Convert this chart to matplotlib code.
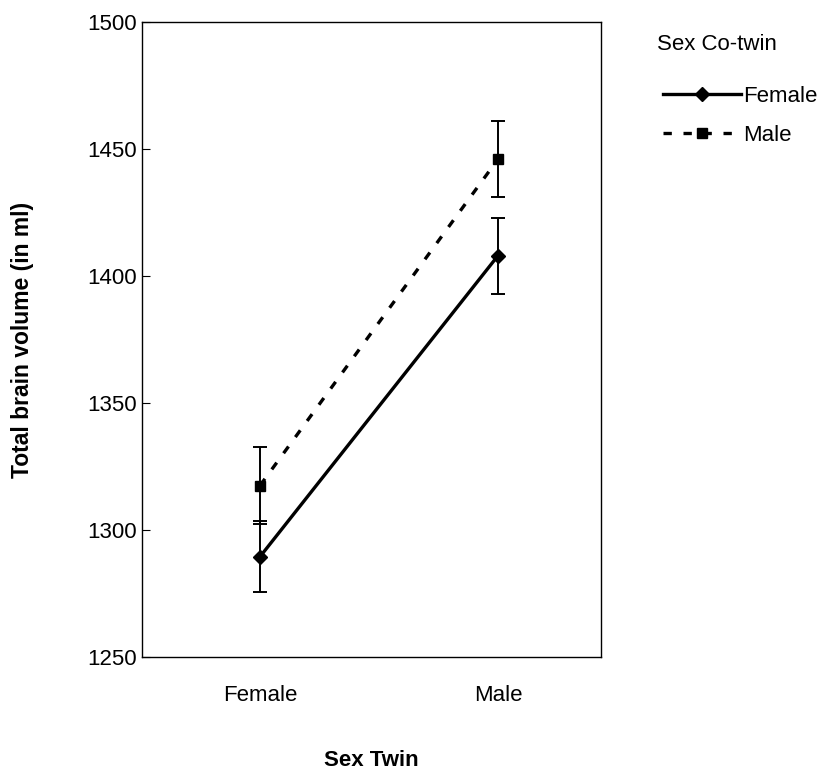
import numpy as np
import matplotlib.pyplot as plt
from matplotlib.lines import Line2D

plt.rcParams["font.family"] = ["Liberation Sans", "DejaVu Sans"]

# Data
sex_twin = ["Female", "Male"]
cotwin_female = [1289.5, 1408]
cotwin_female_err = [14, 15]
cotwin_male = [1317.5, 1446]
cotwin_male_err = [15, 15]
y_ticks = [1250, 1300, 1350, 1400, 1450, 1500]

dash = (0, (2.5, 3.5))

fig = plt.figure(figsize=(8.4, 7.7), dpi=100)
ax = fig.add_axes([142 / 840, 113 / 770, 459 / 840, 635 / 770])

x = np.arange(len(sex_twin))

ax.errorbar(x, cotwin_female, yerr=cotwin_female_err, color="black",
            linewidth=2.4, marker="D", markersize=7, capsize=5,
            elinewidth=1.4, capthick=1.4)
ax.errorbar(x, cotwin_male, yerr=cotwin_male_err, color="black",
            linewidth=2.4, linestyle=dash, marker="s", markersize=7,
            capsize=5, elinewidth=1.4, capthick=1.4)

ax.set_xlim(-0.496, 1.433)
ax.set_ylim(1250, 1500)
ax.set_yticks(y_ticks)
ax.set_xticks(x)
ax.set_xticklabels(sex_twin)
ax.tick_params(axis="y", direction="in", length=6, labelsize=16, pad=4)
ax.tick_params(axis="x", length=0, labelsize=16, pad=20)
for s in ax.spines.values():
    s.set_linewidth(1.0)

ax.set_ylabel("Total brain volume (in ml)", fontsize=16.5, fontweight="bold", labelpad=38)
ax.set_xlabel("Sex Twin", fontsize=16, fontweight="bold", labelpad=32)

# legend title drawn separately so the gap matches the reference
fig.text(657 / 840, 1 - 45 / 770, "Sex Co-twin", fontsize=16, ha="left", va="center")

# legend proxies without error bars
handles = [
    Line2D([], [], color="black", linewidth=2.4, marker="D", markersize=7),
    Line2D([], [], color="black", linewidth=2.4, linestyle=dash, marker="s", markersize=7),
]
leg = ax.legend(handles, ["Female", "Male"], loc="upper left",
                bbox_to_anchor=(663 / 840, 1 - 86 / 770), bbox_transform=fig.transFigure,
                frameon=False, fontsize=16, handlelength=3.5, handletextpad=0.1,
                labelspacing=0.8, borderaxespad=0, borderpad=0)

fig.savefig("out.png", dpi=100)
